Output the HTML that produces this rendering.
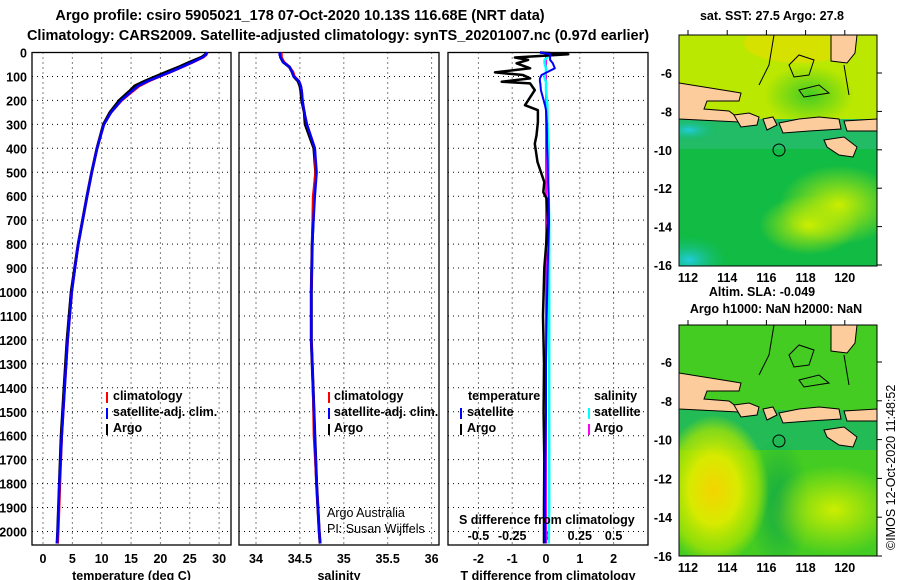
<!DOCTYPE html>
<html><head><meta charset="utf-8"><style>
html,body{margin:0;padding:0;background:#fff;}
svg{display:block;font-family:"Liberation Sans",sans-serif;}
.b{font-weight:bold;font-size:14.5px;}
.t{font-weight:bold;font-size:12.5px;}
</style></head><body>
<svg id="fig" width="900" height="580" viewBox="0 0 900 580" xmlns="http://www.w3.org/2000/svg">
<defs>
<radialGradient id="gY1"><stop offset="0" stop-color="#ccee00"/><stop offset="1" stop-color="#ccee00" stop-opacity="0"/></radialGradient>
<radialGradient id="gY2"><stop offset="0" stop-color="#f4d400"/><stop offset="0.45" stop-color="#d8ea00"/><stop offset="0.8" stop-color="#aee600" stop-opacity="0.7"/><stop offset="1" stop-color="#aee600" stop-opacity="0"/></radialGradient>
<radialGradient id="gC"><stop offset="0" stop-color="#22ccdd"/><stop offset="1" stop-color="#11bb66" stop-opacity="0"/></radialGradient>
<radialGradient id="gD"><stop offset="0" stop-color="#11aa44"/><stop offset="1" stop-color="#11aa44" stop-opacity="0"/></radialGradient>
<radialGradient id="gG"><stop offset="0" stop-color="#44cc22"/><stop offset="1" stop-color="#44cc22" stop-opacity="0"/></radialGradient>
<clipPath id="c1"><rect x="0" y="0" width="198" height="231"/></clipPath>
<g id="land">
<polygon points="0,48 25,52 50,56 62,58 60,66 28,66 25,74 50,76 58,82 60,87 20,85 0,84" fill="#fccc9c" stroke="#000" stroke-width="1"/>
<polygon points="55,80 70,78 80,82 78,90 62,92" fill="#fccc9c" stroke="#000" stroke-width="1"/>
<polygon points="84,84 94,82 98,90 88,95" fill="#fccc9c" stroke="#000" stroke-width="1"/>
<polygon points="100,88 120,84 140,82 160,84 162,94 130,96 104,98" fill="#fccc9c" stroke="#000" stroke-width="1"/>
<polygon points="165,86 198,84 198,96 168,96" fill="#fccc9c" stroke="#000" stroke-width="1"/>
<polygon points="152,0 178,0 176,18 168,28 152,26" fill="#fccc9c" stroke="#000" stroke-width="1"/>
<polygon points="145,105 165,102 178,112 174,122 160,120 148,112" fill="#fccc9c" stroke="#000" stroke-width="1"/>
<path d="M95,0 L90,30 L80,50 M110,30 L120,20 L135,25 L130,40 L115,42Z M120,55 L140,50 L150,58 L125,62Z M165,30 L170,60" fill="none" stroke="#000" stroke-width="1"/>
</g>
</defs>

<text x="300" y="20" text-anchor="middle" class="b">Argo profile: csiro 5905021_178 07-Oct-2020 10.13S 116.68E (NRT data)</text>
<text x="338" y="40" text-anchor="middle" class="b">Climatology: CARS2009. Satellite-adjusted climatology: synTS_20201007.nc (0.97d earlier)</text>

<g id="p1"></g>
<g id="p2"></g>
<g id="p3"></g>

<g class="t">
<rect x="106" y="392" width="2" height="11" fill="#f00"/><text x="113" y="400">climatology</text>
<rect x="106" y="408" width="2" height="11" fill="#00f"/><text x="113" y="416">satellite-adj. clim.</text>
<rect x="106" y="424" width="2" height="11" fill="#000"/><text x="113" y="432">Argo</text>
</g>
<g class="t">
<rect x="328" y="392" width="2" height="11" fill="#f00"/><text x="334" y="400">climatology</text>
<rect x="328" y="408" width="2" height="11" fill="#00f"/><text x="334" y="416">satellite-adj. clim.</text>
<rect x="328" y="424" width="2" height="11" fill="#000"/><text x="334" y="432">Argo</text>
</g>
<g class="t">
<text x="468" y="400">temperature</text>
<rect x="460" y="408" width="2" height="11" fill="#00f"/><text x="467" y="416">satellite</text>
<rect x="460" y="424" width="2" height="11" fill="#000"/><text x="467" y="432">Argo</text>
<text x="594" y="400">salinity</text>
<rect x="588" y="408" width="2" height="11" fill="#0ff"/><text x="594" y="416">satellite</text>
<rect x="588" y="424" width="2" height="11" fill="#f0f"/><text x="594" y="432">Argo</text>
</g>
<text x="327" y="517" font-size="12.5">Argo Australia</text>
<text x="327" y="533" font-size="12.5">PI: Susan Wijffels</text>
<text x="459" y="524" class="t">S difference from climatology</text>

<g transform="translate(679,35)">
<g clip-path="url(#c1)">
<rect x="0" y="0" width="198" height="231" fill="#11bb44"/>
<rect x="0" y="0" width="198" height="90" fill="#bbe800"/>
<ellipse cx="120" cy="8" rx="55" ry="20" fill="#e8dc00" opacity="0.6"/>
<ellipse cx="130" cy="60" rx="45" ry="30" fill="url(#gG)"/>
<rect x="0" y="84" width="198" height="30" fill="#22bb66"/>
<ellipse cx="160" cy="170" rx="60" ry="40" fill="url(#gY1)"/>
<ellipse cx="130" cy="190" rx="50" ry="30" fill="url(#gY1)"/>
<ellipse cx="10" cy="225" rx="40" ry="25" fill="url(#gC)"/>
<ellipse cx="10" cy="95" rx="30" ry="12" fill="url(#gC)"/>
<use href="#land"/>
<circle cx="100" cy="115" r="6" fill="none" stroke="#000"/>
</g>
<rect x="0" y="0" width="198" height="231" fill="none" stroke="#000"/>
</g>
<g transform="translate(679,325)">
<g clip-path="url(#c1)">
<rect x="0" y="0" width="198" height="231" fill="#44cc22"/>
<rect x="0" y="85" width="198" height="40" fill="#22bb55"/>
<ellipse cx="100" cy="180" rx="30" ry="70" fill="url(#gD)"/>
<ellipse cx="35" cy="165" rx="55" ry="75" fill="url(#gY2)"/>
<ellipse cx="155" cy="185" rx="65" ry="45" fill="url(#gY1)"/>
<use href="#land"/>
<circle cx="100" cy="116" r="6" fill="none" stroke="#000"/>
</g>
<rect x="0" y="0" width="198" height="231" fill="none" stroke="#000"/>
</g>
<text x="772" y="20" text-anchor="middle" class="t">sat. SST: 27.5 Argo: 27.8</text>
<text x="762" y="296" text-anchor="middle" class="t">Altim. SLA: -0.049</text>
<text x="776" y="313" text-anchor="middle" class="t">Argo h1000: NaN h2000: NaN</text>
<text transform="translate(895,550) rotate(-90)" font-size="12.5">©IMOS 12-Oct-2020 11:48:52</text>
<g id="maxes"></g>
</svg>
<script>
const depthTicks = [0,100,200,300,400,500,600,700,800,900,1000,1100,1200,1300,1400,1500,1600,1700,1800,1900,2000];
const tempTicks = [0,5,10,15,20,25,30];
const salTicks = [34,34.5,35,35.5,36];
const salTickLabels = ["34","34.5","35","35.5","36"];
const tdiffTicks = [-2,-1,0,1,2];
const sdiffTicks = [-0.5,-0.25,0,0.25,0.5];
const sdiffTickLabels = ["-0.5","-0.25","0","0.25","0.5"];
const latTicks = [-6,-8,-10,-12,-14,-16];
const lonTicks = [112,114,116,118,120];

const profDepth = [0,10,20,40,60,80,100,120,140,160,200,250,300,400,500,600,800,1000,1200,1400,1600,1800,2000,2050];
const argoTemp = [27.9,27.6,27.0,25.0,23.2,21.2,19.2,17.3,15.6,14.8,13.0,11.4,10.3,9.2,8.3,7.5,6.0,4.8,4.1,3.6,3.1,2.8,2.5,2.4];
const climTemp = [28.0,27.8,27.3,25.6,23.8,21.9,19.9,18.0,16.4,15.4,13.4,11.6,10.4,9.2,8.3,7.5,6.0,4.9,4.2,3.7,3.2,2.9,2.6,2.5];
const satTemp  = [28.0,27.7,27.2,25.5,23.7,21.8,19.8,17.8,16.2,15.2,13.3,11.6,10.4,9.2,8.3,7.5,6.0,4.9,4.2,3.7,3.2,2.8,2.5,2.4];
const argoSal = [34.27,34.28,34.28,34.31,34.38,34.41,34.43,34.48,34.50,34.51,34.52,34.55,34.56,34.66,34.68,34.66,34.64,34.63,34.63,34.65,34.67,34.69,34.72,34.73];
const climSal = [34.29,34.29,34.29,34.32,34.38,34.42,34.44,34.49,34.51,34.52,34.53,34.55,34.58,34.67,34.68,34.65,34.64,34.63,34.63,34.65,34.66,34.69,34.72,34.73];
const satSal  = [34.27,34.27,34.28,34.31,34.38,34.41,34.43,34.49,34.51,34.52,34.53,34.55,34.58,34.67,34.69,34.67,34.64,34.63,34.63,34.65,34.67,34.69,34.72,34.73];

const diffDepth = [0,7,21,31,45,66,83,94,108,122,129,157,220,241,290,346,381,457,541,583,611,708,900,1100,1300,1500,1700,1900,2050];
const argoTdiff = [-0.18,0.66,-0.92,-0.53,-0.87,-0.47,-1.51,-0.68,-0.47,-1.31,-0.47,-0.33,-0.62,-0.24,-0.24,-0.28,-0.33,-0.25,-0.05,-0.08,0.02,0.06,-0.05,-0.09,-0.06,-0.07,-0.05,-0.06,-0.06];
const satTdiff  = [-0.18,0.12,0.12,0.12,0.2,0.26,0.02,-0.13,-0.18,-0.18,-0.17,-0.15,-0.03,0.0,0.02,0.03,0.03,0.05,0.06,0.07,0.08,0.09,0.05,0.02,0.0,0.0,-0.02,-0.03,-0.02];
const argoSdiff = [-0.01,0.0,0.0,0.0,0.0,0.0,0.0,0.0,0.0,0.0,0.0,0.0,0.0,0.0,0.0,0.0,0.0,0.0,0.0,0.0,0.0,0.0,0.0,0.0,0.0,0.0,0.0,0.0,0.0];
const satSdiff  = [-0.01,0.01,0.01,-0.01,-0.01,0.0,0.0,-0.01,-0.01,0.0,0.0,0.0,0.01,0.01,0.01,0.015,0.02,0.02,0.02,0.02,0.02,0.024,0.024,0.024,0.024,0.024,0.024,0.024,0.02];

const NS = "http://www.w3.org/2000/svg";
const Y0 = 52.5, YS = 0.2395, YB = 545;
const yD = d => Y0 + d*YS;
const xT = t => 43 + t*5.87;
const xS = s => 256 + (s-34)*87.8;
const xTd = v => 546 + v*33.8;
const xSd = v => 546 + v*4*33.8;

function mk(tag, attrs, parent){
  const e = document.createElementNS(NS, tag);
  for (const k in attrs) e.setAttribute(k, attrs[k]);
  parent.appendChild(e);
  return e;
}
function panel(g, L, R, xTicks, xf, labels, title){
  for (const d of depthTicks){
    const gl = mk('line',{x1:L,x2:R,y1:yD(d),y2:yD(d),stroke:'#000','stroke-dasharray':'1,4'},g);
    
    
  }
  xTicks.forEach((t,i)=>{
    const gl = mk('line',{x1:xf(t),x2:xf(t),y1:Y0,y2:YB,stroke:'#000','stroke-dasharray':'1,4'},g);
    
    
    const tl = mk('text',{x:xf(t),y:563,'text-anchor':'middle','class':'t'},g);
    tl.textContent = labels[i];
    
    
  });
  const fr = mk('rect',{x:L,y:Y0,width:R-L,height:YB-Y0,fill:'none',stroke:'#000','stroke-width':1.3},g);
  
  
  const tt = mk('text',{x:(L+R)/2,y:580,'text-anchor':'middle','class':'t'},g);
  tt.textContent = title;
  
  
}
function line(g, xs, ds, xf, color, w, name){
  const pts = xs.map((v,i)=>xf(v).toFixed(1)+','+yD(ds[i]).toFixed(1)).join(' ');
  const p = mk('polyline',{points:pts,fill:'none',stroke:color,'stroke-width':w,'stroke-linejoin':'round'},g);
  
  
}
const p1 = document.getElementById('p1'), p2 = document.getElementById('p2'), p3 = document.getElementById('p3');
panel(p1, 32, 231, tempTicks, xT, tempTicks.map(String), 'temperature (deg C)');
panel(p2, 239, 439, salTicks, xS, salTickLabels, 'salinity');
panel(p3, 448, 648, tdiffTicks, xTd, tdiffTicks.map(String), 'T difference from climatology');
for (const d of depthTicks){
  const tl = mk('text',{x:27,y:yD(d)+5,'text-anchor':'end','class':'t'},p1);
  tl.textContent = String(d);
  
  
}
sdiffTicks.forEach((v,i)=>{
  const tl = mk('text',{x:xSd(v),y:540,'text-anchor':'middle','class':'t'},p3);
  tl.textContent = sdiffTickLabels[i];
  
  
});
line(p1, argoTemp, profDepth, xT, '#000', 3, 'argo-temperature-line');
line(p1, climTemp, profDepth, xT, '#f00', 2.5, 'climatology-temperature-line');
line(p1, satTemp, profDepth, xT, '#00f', 2.5, 'satellite-temperature-line');
line(p2, argoSal, profDepth, xS, '#000', 3, 'argo-salinity-line');
line(p2, climSal, profDepth, xS, '#f00', 2.5, 'climatology-salinity-line');
line(p2, satSal, profDepth, xS, '#00f', 2.5, 'satellite-salinity-line');
line(p3, argoSdiff, diffDepth, xSd, '#f0f', 2, 'argo-s-diff-line');
line(p3, satSdiff, diffDepth, xSd, '#0ff', 2.5, 'satellite-s-diff-line');
line(p3, argoTdiff, diffDepth, xTd, '#000', 2.5, 'argo-t-diff-line');
line(p3, satTdiff, diffDepth, xTd, '#00f', 2, 'satellite-t-diff-line');

const mx = document.getElementById('maxes');
[[35,73,19.2,277],[325,362,19.4,567]].forEach(([top,y6,sc,ly])=>{
  latTicks.forEach(l=>{
    const y = y6 + (-6-l)*sc;
    const tl = mk('text',{x:672,y:y+5,'text-anchor':'end','class':'t'},mx);
    tl.textContent = String(l);
    
    
    mk('line',{x1:877,x2:882,y1:y,y2:y,stroke:'#000'},mx);
  });
  lonTicks.forEach(l=>{
    const x = 688 + (l-112)*19.6;
    const tl = mk('text',{x:x,y:ly+5,'text-anchor':'middle','class':'t'},mx);
    tl.textContent = String(l);
    
    
    mk('line',{x1:x,x2:x,y1:top-5,y2:top,stroke:'#000'},mx);
  });
});
</script>
</body></html>
